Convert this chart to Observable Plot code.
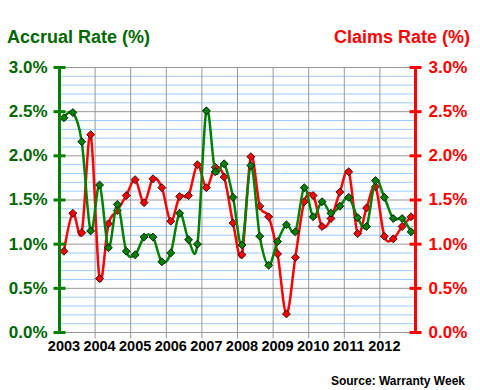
<!DOCTYPE html>
<html><head><meta charset="utf-8">
<script src="https://cdn.jsdelivr.net/npm/d3@7"></script>
<script src="https://cdn.jsdelivr.net/npm/@observablehq/plot@0.6"></script>
<style>
body{margin:0;background:#fff;}
#wrap{position:relative;width:480px;height:390px;font-family:"Liberation Sans",Arial,sans-serif;overflow:hidden;background:#fff;}
.t{position:absolute;font-weight:bold;white-space:nowrap;}
#chart{position:absolute;left:0;top:50px;}
</style></head><body>
<div id="wrap">
  <div class="t" id="titleL" style="left:7px;top:28px;font-size:18px;line-height:18px;color:#006600">Accrual Rate (%)</div>
  <div class="t" id="titleR" style="right:10px;top:28px;font-size:18px;line-height:18px;color:#ff0000">Claims Rate (%)</div>
  <div id="chart"></div>
  <div class="t" id="source" style="right:15px;top:375px;font-size:12px;line-height:12px;color:#000">Source: Warranty Week</div>
</div>
<script>
const years = [2003, 2004, 2005, 2006, 2007, 2008, 2009, 2010, 2011, 2012];
const gridYears = [2004, 2005, 2006, 2007, 2008, 2009, 2010, 2011, 2012];
const xStart = 2003, xEnd = 2013;
// quarterly values, 2003 Q1 ... 2012 Q4
const accrual = [2.43, 2.49, 2.16, 1.15, 1.67, 0.96, 1.45, 0.92, 0.88, 1.08,
                 1.08, 0.80, 0.90, 1.35, 1.05, 1.00, 2.51, 1.82, 1.91, 1.53,
                 0.99, 1.89, 1.09, 0.76, 1.03, 1.22, 1.14, 1.64, 1.31, 1.48,
                 1.35, 1.43, 1.53, 1.30, 1.20, 1.72, 1.53, 1.29, 1.29, 1.14];
const claims  = [0.92, 1.35, 1.13, 2.24, 0.61, 1.23, 1.38, 1.55, 1.73, 1.47,
                 1.74, 1.64, 1.26, 1.54, 1.55, 1.90, 1.64, 1.87, 1.76, 1.24,
                 0.88, 1.99, 1.43, 1.31, 0.89, 0.21, 0.85, 1.48, 1.55, 1.20,
                 1.29, 1.59, 1.82, 1.12, 1.41, 1.65, 1.09, 1.06, 1.20, 1.31];
const yTicks = [0, 0.5, 1.0, 1.5, 2.0, 2.5, 3.0];
const yMinor = [0.1, 0.2, 0.3, 0.4, 0.6, 0.7, 0.8, 0.9, 1.1, 1.2, 1.3, 1.4,
                1.6, 1.7, 1.8, 1.9, 2.1, 2.2, 2.3, 2.4, 2.6, 2.7, 2.8, 2.9];

const qx = i => years[Math.floor(i / 4)] + ((i % 4) + 0.5) / 4;
const accRows = accrual.map((v, i) => ({x: qx(i), v}));
const clmRows = claims.map((v, i) => ({x: qx(i), v}));
const fmt = d => d.toFixed(1) + "%";

const hTick = {draw(ctx) { ctx.moveTo(-6, 0); ctx.lineTo(6, 0); }};
const vTick = {draw(ctx) { ctx.moveTo(0, 0); ctx.lineTo(0, 6); }};

const GREEN = "#008000", RED = "#ff0000", GRID = "#999999", MINOR = "#99ccff";

const chart = Plot.plot({
  width: 480, height: 315,
  marginLeft: 59, marginRight: 65, marginTop: 17, marginBottom: 33,
  style: {fontFamily: "'Liberation Sans', Arial, sans-serif", background: "transparent", overflow: "visible"},
  x: {domain: [xStart, xEnd], axis: null},
  y: {domain: [0, 3], axis: null},
  marks: [
    Plot.ruleY(yMinor, {stroke: MINOR, strokeWidth: 1}),
    Plot.ruleY(yTicks, {stroke: GRID, strokeWidth: 1}),
    Plot.ruleX(gridYears, {stroke: GRID, strokeWidth: 1}),
    Plot.dot(gridYears, {x: d => d, y: () => 0, symbol: vTick, stroke: GRID, strokeWidth: 1}),
    Plot.line(clmRows, {x: "x", y: "v", stroke: RED, strokeWidth: 2.5, curve: "cardinal"}),
    Plot.dot(clmRows, {x: "x", y: "v", symbol: "diamond2", r: 3.6, fill: RED, stroke: "#000", strokeWidth: 0.8}),
    Plot.line(accRows, {x: "x", y: "v", stroke: GREEN, strokeWidth: 2.5, curve: "cardinal"}),
    Plot.dot(accRows, {x: "x", y: "v", symbol: "diamond2", r: 3.6, fill: GREEN, stroke: "#000", strokeWidth: 0.8}),
    Plot.ruleX([xStart], {stroke: GREEN, strokeWidth: 3}),
    Plot.ruleX([xEnd], {stroke: RED, strokeWidth: 3}),
    Plot.dot(yTicks, {x: () => xStart, y: d => d, symbol: hTick, stroke: GREEN, strokeWidth: 3}),
    Plot.dot(yTicks, {x: () => xEnd, y: d => d, symbol: hTick, stroke: RED, strokeWidth: 3}),
    Plot.axisY(yTicks, {anchor: "left", label: null, tickSize: 0, tickPadding: 12, tickFormat: fmt,
      fill: "#006600", fontSize: 17, fontWeight: "bold"}),
    Plot.axisY(yTicks, {anchor: "right", label: null, tickSize: 0, tickPadding: 13, tickFormat: fmt,
      fill: RED, fontSize: 17, fontWeight: "bold"}),
    Plot.text(years, {x: d => d + 0.125, frameAnchor: "bottom", dy: 18.5, text: d => String(d),
      fontSize: 14.5, fontWeight: "bold", fill: "#000"})
  ]
});
document.getElementById("chart").appendChild(chart);
</script>
</body></html>
